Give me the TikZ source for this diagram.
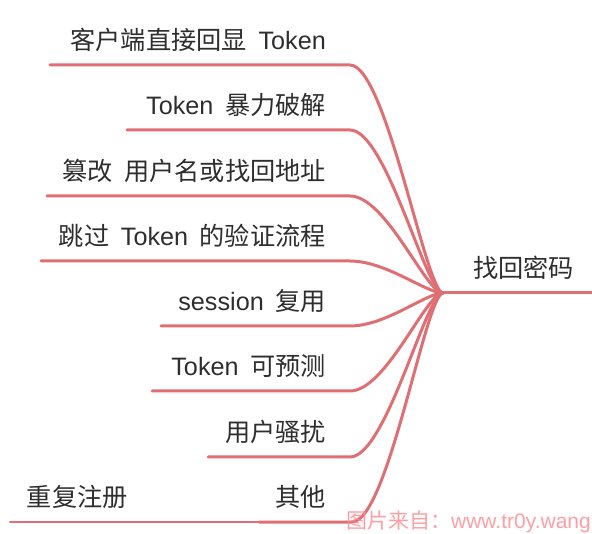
\documentclass[tikz,border=0pt]{standalone}
\usepackage{fontspec}
\setmainfont{Liberation Sans}
\newfontfamily\cjk{Noto Sans CJK SC}
\newcommand\wordgap{\hspace{0.46em}}
\definecolor{linered}{HTML}{E06F74}
\definecolor{textgray}{HTML}{2E2E2E}
\definecolor{markpink}{HTML}{FF8E94}
\begin{document}
\begin{tikzpicture}[x=1pt,y=-1pt,
  branch/.style={draw=linered, line width=3pt, line cap=round},
  subbranch/.style={draw=linered, line width=2pt, line cap=round},
  topic/.style={inner sep=0pt, anchor=base east, text=textgray,
    font=\fontsize{25.2}{29}\selectfont},
  roottopic/.style={topic, anchor=base west},
  stamp/.style={inner sep=0pt, anchor=east, text=markpink, opacity=0.85,
    font=\fontsize{21}{24}\selectfont},
]
\useasboundingbox (0,0) rectangle (592,534);

% hub where all branches meet, and the root line
\coordinate (hub) at (443,293);
\coordinate (rootend) at (594,293);
\draw[branch] (hub) -- (rootend);
\node[roottopic] (root) at (473,278) {\cjk 找回密码};

% branch lines: start, bend point
\coordinate (s1) at (50,65);   \coordinate (e1) at (350,65);
\coordinate (s2) at (127,130); \coordinate (e2) at (350,130);
\coordinate (s3) at (47,196);  \coordinate (e3) at (350,196);
\coordinate (s4) at (41,261);  \coordinate (e4) at (350,261);
\coordinate (s5) at (161,326); \coordinate (e5) at (350,326);
\coordinate (s6) at (152,391); \coordinate (e6) at (350,391);
\coordinate (s7) at (208,457); \coordinate (e7) at (350,457);
\coordinate (s8) at (259,522); \coordinate (e8) at (352,522);
\coordinate (s9) at (10,522);

\foreach \i in {1,...,8}{
  \draw[branch] (s\i) -- (e\i) .. controls +(36,0) and +(-17,0) .. (hub);
}
\draw[subbranch] (s9) -- (s8);

% topic labels
\node[topic] (t1) at (326,50)  {{\cjk 客户端直接回显}\wordgap Token};
\node[topic] (t2) at (326,115) {Token\wordgap{\cjk 暴力破解}};
\node[topic] (t3) at (326,181) {{\cjk 篡改}\wordgap{\cjk 用户名或找回地址}};
\node[topic] (t4) at (326,246) {{\cjk 跳过}\wordgap Token\wordgap{\cjk 的验证流程}};
\node[topic] (t5) at (326,311) {session\wordgap{\cjk 复用}};
\node[topic] (t6) at (326,376) {Token\wordgap{\cjk 可预测}};
\node[topic] (t7) at (326,442) {\cjk 用户骚扰};
\node[topic] (t8) at (326,507) {\cjk 其他};
\node[topic] (t9) at (128,507) {\cjk 重复注册};

% source stamp
\node[stamp] (mark) at (591,522) {{\cjk 图片来自：}www.tr0y.wang};
\end{tikzpicture}
\end{document}
